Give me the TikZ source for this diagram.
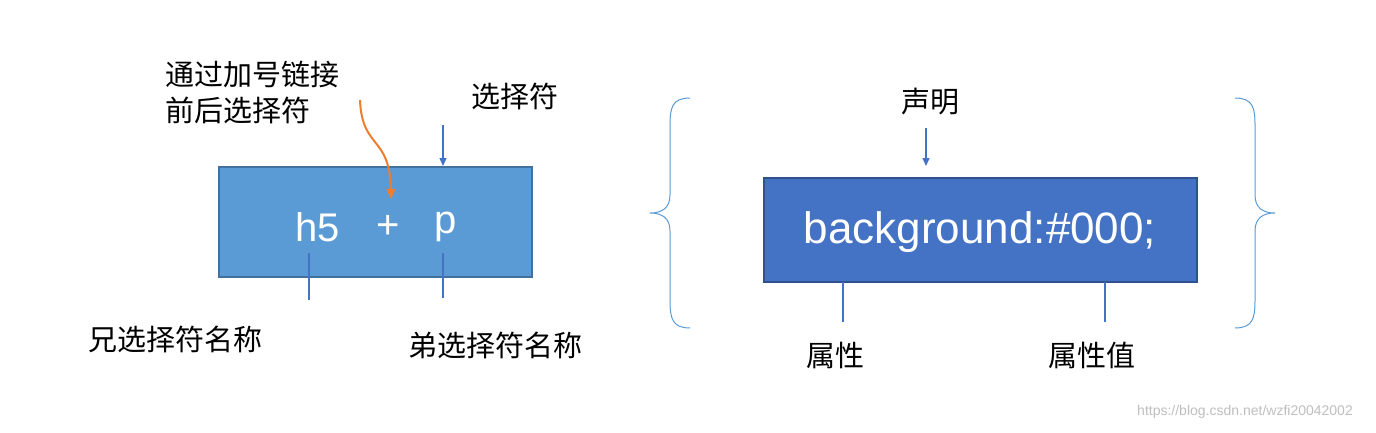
\documentclass[tikz,border=0pt]{standalone}
\usepackage{fontspec}
\setmainfont{Liberation Sans}
\newfontfamily\cjk{Noto Sans CJK SC}
\usetikzlibrary{arrows.meta}
\definecolor{boxa}{HTML}{5B9BD5}\definecolor{boxab}{HTML}{41719C}
\definecolor{boxb}{HTML}{4472C4}\definecolor{boxbb}{HTML}{2F528F}
\definecolor{org}{HTML}{ED7D31}
\tikzset{lab/.style={font=\cjk\fontsize{29}{36}\selectfont,inner sep=0pt},
 ln/.style={draw=boxb,line width=1.2pt},
 arr/.style={ln,-{Triangle[length=8pt,width=7pt]}},
 brace/.style={draw=boxa,line width=1pt}}
\begin{document}
\begin{tikzpicture}[x=1pt,y=-1pt]
\useasboundingbox[fill=white] (0,0) rectangle (1376,432);
\node[draw=boxab,fill=boxa,line width=1.2pt,minimum width=313pt,minimum height=110pt,inner sep=0pt] (L) at (375.5,222) {};
\node[text=white,font=\fontsize{40}{44}\selectfont] (h5) at (318,227) {h5};
\node[text=white,font=\fontsize{40}{44}\selectfont] (plus) at (388,227) {+};
\node[text=white,font=\fontsize{40}{44}\selectfont] (p) at (446,227) {p};
\node[lab] (sel) at (515,96) {选择符};
\coordinate (sa) at (443,125); \coordinate (sb) at (443,166);
\draw[arr] (sa) -- (sb);
\node[lab,align=left] (plusl) at (252,92) {通过加号链接\\前后选择符};
\coordinate (oa) at (360,100); \coordinate (ob) at (391,199);
\draw[draw=org,line width=2pt,-{Triangle[length=10pt,width=9pt]}] (oa) .. controls (362,150) and (390,135) .. (ob);
\coordinate (l1a) at (309,253); \coordinate (l1b) at (309,300);
\coordinate (l2a) at (443,253); \coordinate (l2b) at (443,298);
\draw[ln] (l1a) -- (l1b); \draw[ln] (l2a) -- (l2b);
\node[lab] (xiong) at (175,339) {兄选择符名称};
\node[lab] (di) at (495,345) {弟选择符名称};
\draw[brace] (690,98) .. controls (672,98) and (670,108) .. (670,125) -- (670,195) .. controls (670,208) and (662,213) .. (650,213) .. controls (662,213) and (670,218) .. (670,231) -- (670,300) .. controls (670,318) and (672,328) .. (690,328);
\draw[brace] (1235,98) .. controls (1253,98) and (1255,108) .. (1255,125) -- (1255,195) .. controls (1255,208) and (1263,213) .. (1275,213) .. controls (1263,213) and (1255,218) .. (1255,231) -- (1255,300) .. controls (1255,318) and (1253,328) .. (1235,328);
\node[draw=boxbb,fill=boxb,line width=1.2pt,minimum width=433pt,minimum height=104pt,inner sep=0pt] (R) at (980.5,230) {};
\node[text=white,font=\fontsize{44}{48}\selectfont] (bg) at (980,232) {background:\#000;};
\node[lab] (sm) at (930,102) {声明};
\coordinate (ra) at (926,128); \coordinate (rb) at (926,166);
\draw[arr] (ra) -- (rb);
\coordinate (r1a) at (843,282); \coordinate (r1b) at (843,322);
\coordinate (r2a) at (1105,282); \coordinate (r2b) at (1105,322);
\draw[ln] (r1a) -- (r1b); \draw[ln] (r2a) -- (r2b);
\node[lab] (sx) at (835,355) {属性};
\node[lab] (sxz) at (1092,355) {属性值};
\node[text=black!25,font=\fontsize{14}{16}\selectfont] (wm) at (1245,412) {https://blog.csdn.net/wzfi20042002};
\end{tikzpicture}
\end{document}
